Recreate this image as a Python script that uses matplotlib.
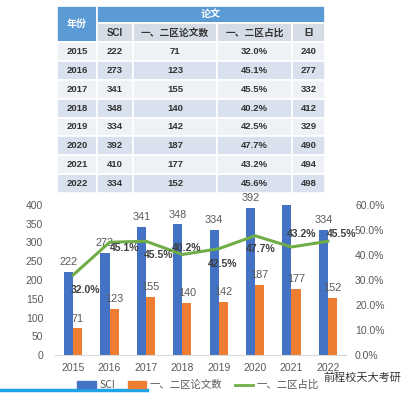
import matplotlib.pyplot as plt
from matplotlib.patches import Rectangle, Patch
from matplotlib.lines import Line2D

# data
years = ['2015', '2016', '2017', '2018', '2019', '2020', '2021', '2022']
sci = [222, 273, 341, 348, 334, 392, 410, 334]
q12 = [71, 123, 155, 140, 142, 187, 177, 152]
q12_pct = [32.0, 45.1, 45.5, 40.2, 42.5, 47.7, 43.2, 45.5]
ei = [240, 277, 332, 412, 329, 490, 494, 498]
pct_text = ['32.0%', '45.1%', '45.5%', '40.2%', '42.5%', '47.7%', '43.2%', '45.6%']

sub_headers = ['SCI', '一、二区论文数', '一、二区占比', 'EI']

W, H = 402, 393
fig = plt.figure(figsize=(W / 100, H / 100), dpi=100)
fig.patch.set_facecolor('white')

fonts = ['Liberation Sans', 'Noto Sans CJK SC', 'DejaVu Sans']
cjk = ['Noto Sans CJK SC', 'DejaVu Sans']

# ---- table, drawn in pixel coords ----
tab = fig.add_axes([0, 0, 1, 1])
tab.set_xlim(0, W)
tab.set_ylim(H, 0)
tab.axis('off')

col_x = [57, 97, 133, 217, 292, 325]
head_y = [6, 23, 42]
row_h = (193 - 42) / len(years)
blue = '#5B9BD5'

def cell(x0, x1, y0, y1, fc):
    tab.add_patch(Rectangle((x0, y0), x1 - x0, y1 - y0, facecolor=fc,
                            edgecolor='white', lw=1.2))

cell(col_x[0], col_x[1], head_y[0], head_y[2], blue)
tab.text((col_x[0] + col_x[1]) / 2, (head_y[0] + head_y[2]) / 2, '年份',
         ha='center', va='center', color='white', fontsize=7.2, weight='bold', family=cjk)
cell(col_x[1], col_x[5], head_y[0], head_y[1], blue)
tab.text((col_x[1] + col_x[5]) / 2, (head_y[0] + head_y[1]) / 2, '论文',
         ha='center', va='center', color='white', fontsize=7.2, weight='bold', family=cjk)
for j, name in enumerate(sub_headers):
    cell(col_x[j + 1], col_x[j + 2], head_y[1], head_y[2], '#D5DCE6')
    tab.text((col_x[j + 1] + col_x[j + 2]) / 2, (head_y[1] + head_y[2]) / 2, name,
             ha='center', va='center', color='#333333', fontsize=7,
             weight='bold', family=fonts)

for i, yr in enumerate(years):
    y0 = head_y[2] + i * row_h
    fc = '#EEF1F6' if i % 2 == 0 else '#D9E1EE'
    vals = [yr, str(sci[i]), str(q12[i]), pct_text[i], str(ei[i])]
    for j, v in enumerate(vals):
        cell(col_x[j], col_x[j + 1], y0, y0 + row_h, fc)
        tab.text((col_x[j] + col_x[j + 1]) / 2, y0 + row_h / 2, v,
                 ha='center', va='center', color='#333333', fontsize=6.8,
                 weight='bold', family=fonts)

# video progress bar + watermark from the screenshot
tab.add_line(Line2D([0, 147], [390, 390], color='#1FA3E8', lw=2.5))
tab.text(323, 378, '前程校天大考研', ha='left', va='center', fontsize=8,
         color='#333333', family=cjk, zorder=6)

# ---- chart ----
ax = fig.add_axes([55 / W, 38 / H, (346 - 55) / W, 150 / H])
x = list(range(len(years)))
bw = 0.25
xb = [i - bw / 2 for i in x]
xo = [i + bw / 2 for i in x]
ax.bar(xb, sci, width=bw, color='#4472C4', zorder=2)
ax.bar(xo, q12, width=bw, color='#ED7D31', zorder=2)
ax.set_ylim(0, 400)
ax.set_xlim(-0.5, len(years) - 0.5)
ax.set_yticks(range(0, 401, 50))
ax.set_xticks(x)
ax.set_xticklabels(years)
for s in ['top', 'left', 'right']:
    ax.spines[s].set_visible(False)
ax.spines['bottom'].set_color('#D9D9D9')
ax.tick_params(axis='both', length=0, labelsize=7.5, labelcolor='#595959')
ax.tick_params(axis='y', pad=8.5)
ax.tick_params(axis='x', pad=6)
for lab in ax.get_xticklabels() + ax.get_yticklabels():
    lab.set_family(fonts)

for xs, vals in [(xb, sci), (xo, q12)]:
    for xi, v in zip(xs, vals):
        ax.annotate(str(v), (xi, v), xytext=(0, 7), textcoords='offset points',
                    ha='center', va='center', fontsize=7.8, color='#595959',
                    family=fonts, zorder=4)

ax2 = ax.twinx()
ax2.plot(x, q12_pct, color='#70AD47', lw=2.2, zorder=3)
ax2.set_ylim(0, 60)
ax2.set_yticks(range(0, 61, 10))
ax2.set_yticklabels(['%.1f%%' % t for t in range(0, 61, 10)])
for s in ['top', 'left', 'right', 'bottom']:
    ax2.spines[s].set_visible(False)
ax2.tick_params(axis='y', length=0, labelsize=7.5, labelcolor='#595959', pad=6.5)
for lab in ax2.get_yticklabels():
    lab.set_family(fonts)

# label offsets in pixels (dx right, dy down)
offs = [(12, 15), (15, 6), (13, 14), (4, -6), (4, 15), (6, 13), (10, -13), (14, -7)]
for xi, p, (dx, dy) in zip(x, q12_pct, offs):
    ax2.annotate('%.1f%%' % p, (xi, p), xytext=(dx * 0.72, -dy * 0.72),
                 textcoords='offset points', ha='center', va='center',
                 fontsize=7.5, weight='bold', color='#404040', family=fonts, zorder=5)

handles = [Patch(color='#4472C4'), Patch(color='#ED7D31'),
           Line2D([], [], color='#70AD47', lw=2)]
leg = fig.legend(handles, ['SCI', '一、二区论文数', '一、二区占比'], loc='center',
                 bbox_to_anchor=(198 / W, 1 - 385 / H), ncol=3, frameon=False,
                 handlelength=1.8, handleheight=0.6, columnspacing=1.2,
                 handletextpad=0.3, prop={'family': cjk, 'size': 7.5})
for t in leg.get_texts():
    t.set_color('#595959')

fig.savefig('out.png', dpi=100)
